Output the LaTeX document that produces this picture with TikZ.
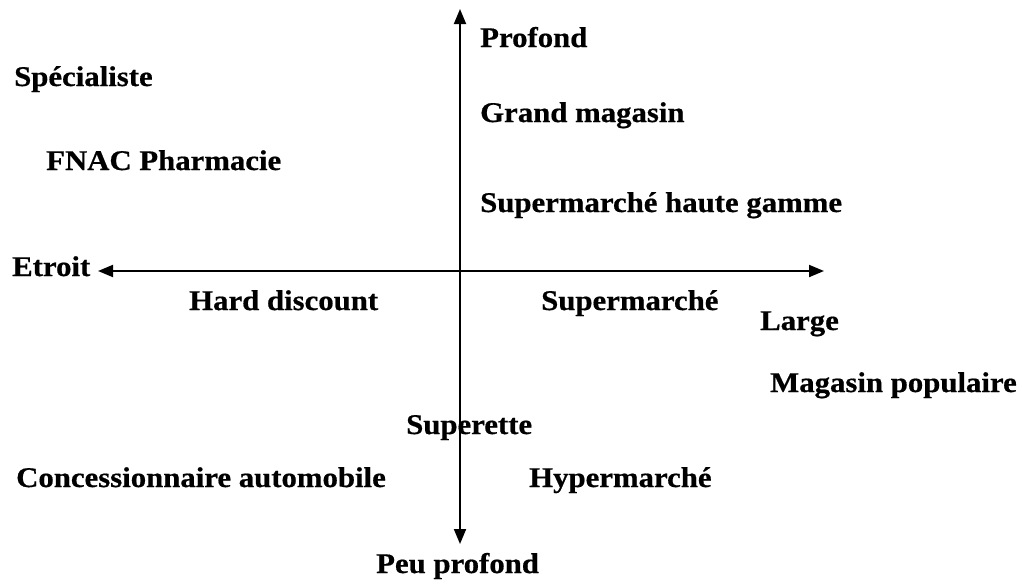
\documentclass[tikz,border=0pt]{standalone}
\usepackage{fontspec}
\setmainfont[FakeStretch=1.08,BoldFeatures={FakeBold=0.6}]{Liberation Serif}
\usetikzlibrary{arrows.meta}
\begin{document}
\begin{tikzpicture}[x=1pt,y=-1pt,
  lbl/.style={anchor=base west,inner sep=0pt,font=\fontsize{28.5}{34}\selectfont\bfseries},
  axis/.style={line width=1.9pt,{Triangle[length=15pt,width=12pt]}-{Triangle[length=15pt,width=12pt]}}]
\useasboundingbox (0,0) rectangle (1022,584);
% axis end points
\coordinate (top) at (460,9);
\coordinate (bottom) at (460,544);
\coordinate (left) at (98,271);
\coordinate (right) at (824,271);
\draw[axis] (bottom) -- (top);
\draw[axis] (left) -- (right);
% labels
\node[lbl] (profond) at (480,47) {Profond};
\node[lbl] (specialiste) at (14,86) {Spécialiste};
\node[lbl] (grand) at (480,122) {Grand magasin};
\node[lbl] (fnac) at (46,170) {FNAC Pharmacie};
\node[lbl] (hautegamme) at (480,212) {Supermarché haute gamme};
\node[lbl] (etroit) at (12,276) {Etroit};
\node[lbl] (hard) at (189,310) {Hard discount};
\node[lbl] (super) at (541,310) {Supermarché};
\node[lbl] (large) at (760,330) {Large};
\node[lbl] (populaire) at (770,392) {Magasin populaire};
\node[lbl] (superette) at (406,434) {Superette};
\node[lbl] (concess) at (16,487) {Concessionnaire automobile};
\node[lbl] (hyper) at (529,487) {Hypermarché};
\node[lbl] (peu) at (376,573) {Peu profond};
\end{tikzpicture}
\end{document}
